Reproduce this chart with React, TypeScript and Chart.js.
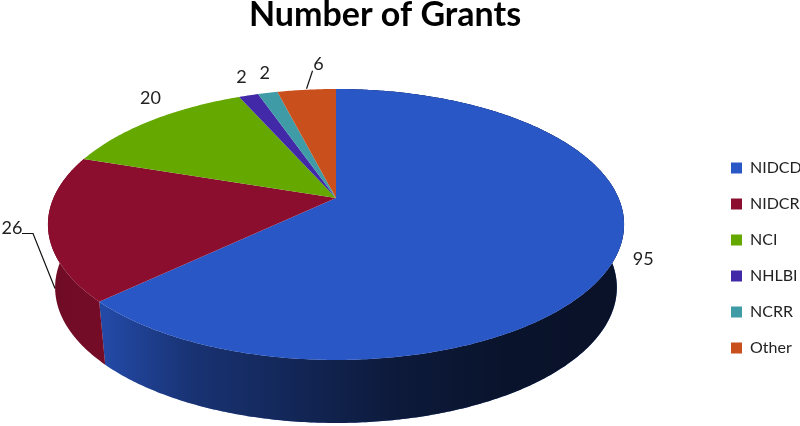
import React, { useEffect, useRef } from "react";
import { Chart, registerables } from "chart.js";

Chart.register(...registerables);

const titleText = "Number of Grants";
const categories = ["NIDCD", "NIDCR", "NCI", "NHLBI", "NCRR", "Other"];
const grants = [95, 26, 20, 2, 2, 6];
const colors = ["#2a57c6", "#8b0e2f", "#65a800", "#4229a8", "#3f9ba6", "#c9501c"];

// perspective of the 3D disc
const APEX_X = 336;
const APEX_Y = 198;
const RX = 282.5;
const RY = 130.3;
const TILT = 0.1955;
const DEPTH = 63;
const BASE_SCALE = 0.975;

// where each value label sits relative to the projected rim of its slice
const labelNudge = [
  [26, 5],
  [-36, 1],
  [-1, -22],
  [-7, -18],
  [-3, -20],
  [12, -26],
];

const project = (a: number) => {
  const u = Math.cos(a);
  const v = Math.sin(a);
  const w = 1 - TILT * v;
  return { x: APEX_X + (RX * u) / w, y: APEX_Y + (RY * v) / w };
};
const base = (p: { x: number; y: number }) => ({
  x: APEX_X + (p.x - APEX_X) * BASE_SCALE,
  y: p.y + DEPTH,
});
const samples = (s: number, e: number) => {
  const n = Math.max(2, Math.ceil((e - s) / 0.01));
  const out = [];
  for (let i = 0; i <= n; i++) out.push(project(s + ((e - s) * i) / n));
  return out;
};

const disc3d = {
  id: "disc3d",
  afterLayout(chart: any) {
    const t = chart.titleBlock;
    t.left = -30;
    t.right = 800;
    const l = chart.legend;
    l.top = 140;
    l.bottom = 426;
    l.height = 286;
    l.left = 711;
    l.right = 800;
    l.width = 89;
  },
  beforeDatasetsDraw(chart: any) {
    const ctx = chart.ctx;
    const arcs = chart.getDatasetMeta(0).data;
    const shade = ctx.createLinearGradient(48, 0, 623, 0);
    shade.addColorStop(0, "rgba(0,0,0,0.2)");
    shade.addColorStop(0.1, "rgba(0,0,0,0.16)");
    shade.addColorStop(0.25, "rgba(0,0,0,0.42)");
    shade.addColorStop(0.45, "rgba(0,0,0,0.58)");
    shade.addColorStop(0.6, "rgba(0,0,0,0.7)");
    shade.addColorStop(0.8, "rgba(0,0,0,0.78)");
    shade.addColorStop(1, "rgba(0,0,0,0.8)");
    ctx.save();
    arcs.forEach((arc: any, i: number) => {
      const pts = samples(arc.startAngle, arc.endAngle);
      const low = pts.map(base).reverse();
      if (arc.startAngle < Math.PI * 1.05) {
        ctx.beginPath();
        [...pts, ...low].forEach((p: any, k: number) =>
          k ? ctx.lineTo(p.x, p.y) : ctx.moveTo(p.x, p.y)
        );
        ctx.closePath();
        ctx.fillStyle = colors[i];
        ctx.fill();
        ctx.fillStyle = shade;
        ctx.fill();
      }
    });
    arcs.forEach((arc: any, i: number) => {
      const pts = samples(arc.startAngle, arc.endAngle);
      ctx.beginPath();
      ctx.moveTo(APEX_X, APEX_Y);
      pts.forEach((p: any) => ctx.lineTo(p.x, p.y));
      ctx.closePath();
      ctx.fillStyle = colors[i];
      ctx.fill();
    });
    ctx.font = "18px Lato";
    ctx.fillStyle = "#222";
    ctx.textAlign = "center";
    ctx.textBaseline = "middle";
    arcs.forEach((arc: any, i: number) => {
      const rim = project((arc.startAngle + arc.endAngle) / 2);
      ctx.fillText(String(grants[i]), rim.x + labelNudge[i][0], rim.y + labelNudge[i][1]);
    });
    // leader lines for the two labels that have them
    const leader = (pts: number[][]) => {
      ctx.beginPath();
      pts.forEach((p, k) => (k ? ctx.lineTo(p[0], p[1]) : ctx.moveTo(p[0], p[1])));
      ctx.strokeStyle = "#111";
      ctx.lineWidth = 1.2;
      ctx.stroke();
    };
    const r1 = project((arcs[1].startAngle + arcs[1].endAngle) / 2);
    leader([
      [r1.x - 26, r1.y + 6],
      [r1.x - 15, r1.y + 6],
      [r1.x + 7, r1.y + 61],
    ]);
    const r5 = project((arcs[5].startAngle + arcs[5].endAngle) / 2);
    leader([
      [r5.x, r5.y - 1],
      [r5.x + 6, r5.y - 19],
    ]);
    ctx.restore();
    return false;
  },
};

export default function App() {
  const ref = useRef<HTMLCanvasElement | null>(null);
  useEffect(() => {
    const chart = new Chart(ref.current as HTMLCanvasElement, {
      type: "pie",
      data: {
        labels: categories,
        datasets: [{ data: grants, backgroundColor: colors, borderWidth: 0 }],
      },
      options: {
        animation: false,
        responsive: false,
        events: [],
        plugins: {
          tooltip: { enabled: false },
          title: {
            display: true,
            text: titleText,
            color: "#000",
            font: { family: "Lato", size: 34, weight: "bold" },
            padding: { top: -5, bottom: 10 },
          },
          legend: {
            position: "right",
            align: "start",
            labels: {
              boxWidth: 11,
              boxHeight: 11,
              color: "#222",
              font: { family: "Lato", size: 16 },
              padding: 20,
            },
          },
        },
      },
      plugins: [disc3d],
    } as any);
    return () => chart.destroy();
  }, []);
  return (
    <div style={{ position: "absolute", left: 0, top: 0, width: 800, height: 426 }}>
      <canvas ref={ref} width={800} height={426} style={{ display: "block" }} />
    </div>
  );
}
